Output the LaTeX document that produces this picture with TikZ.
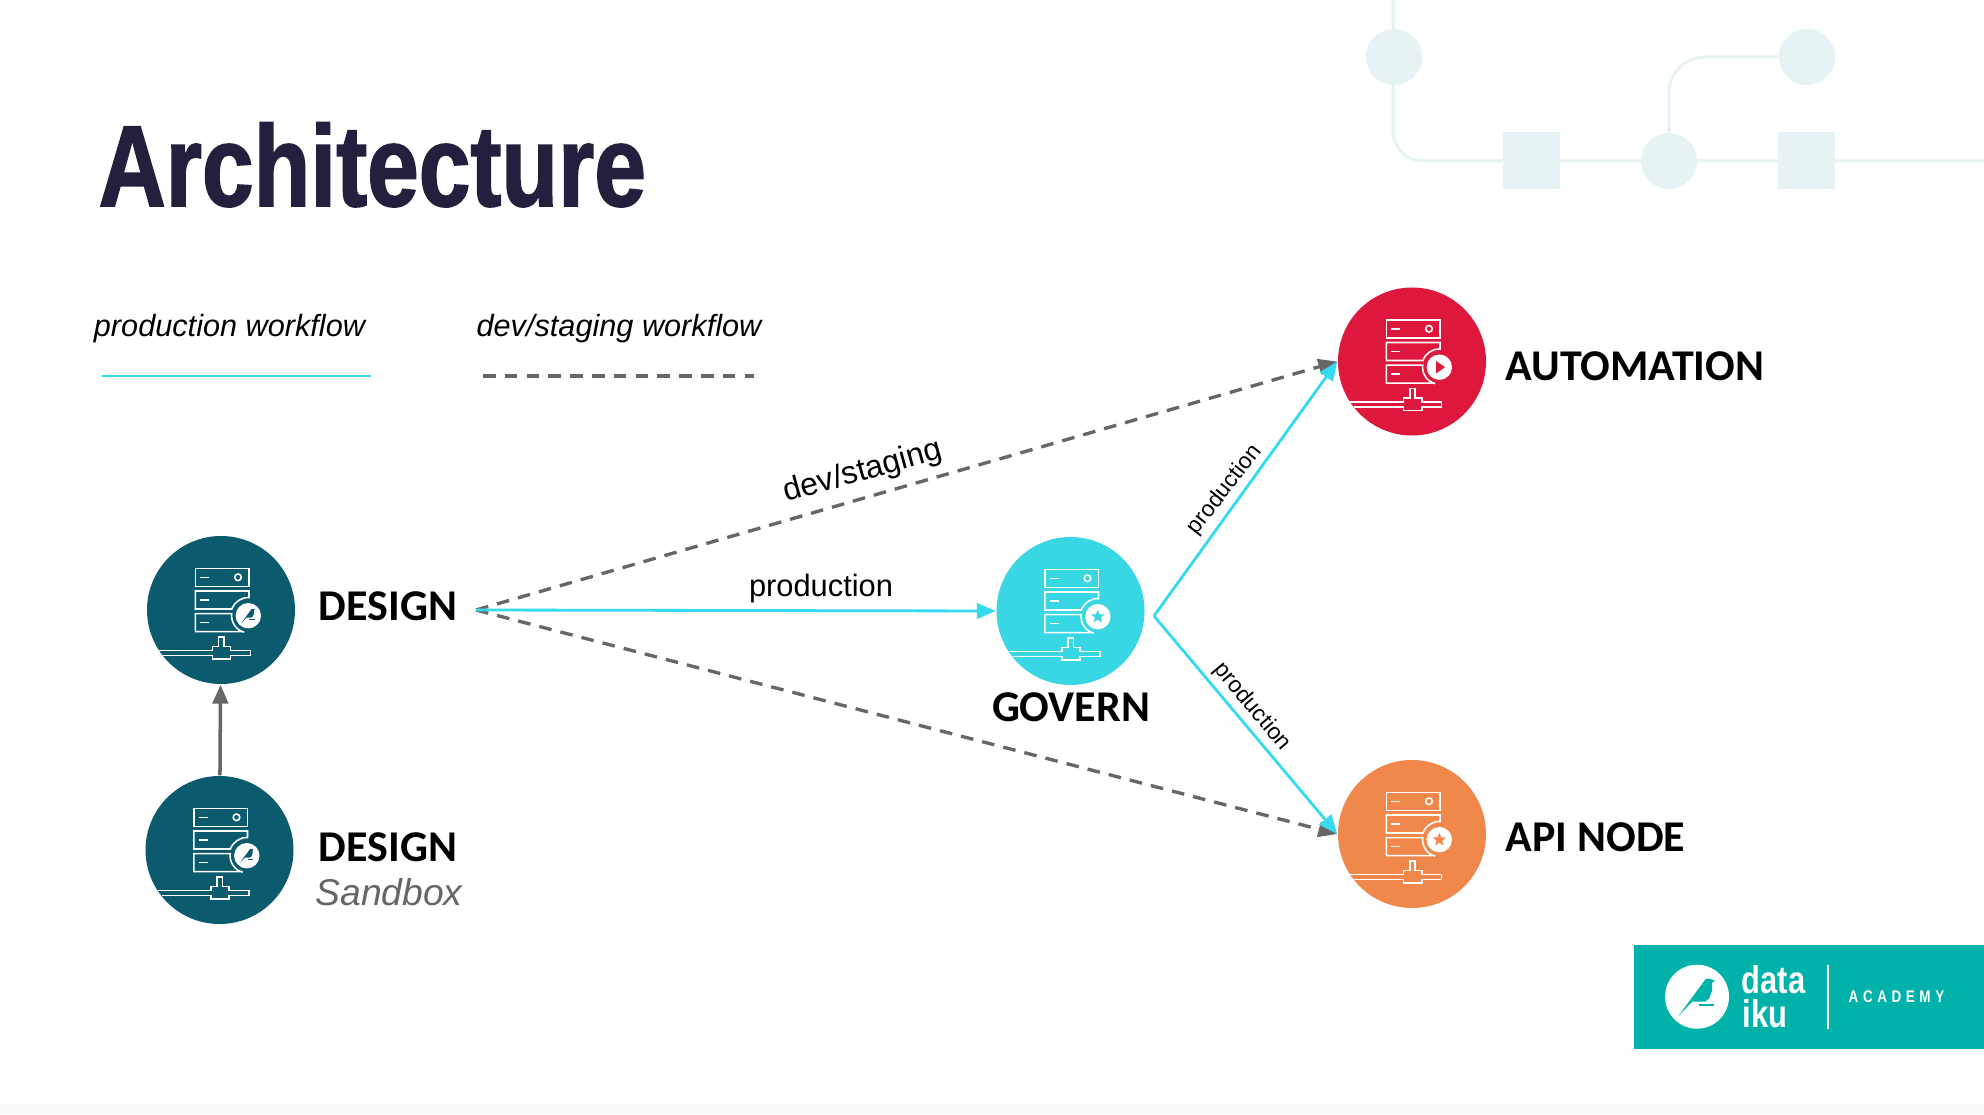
\documentclass[tikz,border=0pt]{standalone}
\usepackage{amsmath}
\usepackage{xcolor}
\usepackage{fontspec}
\usepackage{tikz}
\usetikzlibrary{shapes, arrows.meta, positioning}
\setmainfont{Liberation Sans}
\newfontfamily\titlefont[FakeStretch=0.806,BoldFeatures={FakeBold=1.4}]{Liberation Sans}
\newfontfamily\serverfont{Carlito}
\newfontfamily\logofont[FakeStretch=0.8]{Liberation Sans}
\newfontfamily\academyfont[FakeStretch=0.8,LetterSpace=27]{Liberation Sans}
\definecolor{titlenavy}{HTML}{231F3C}
\definecolor{decotint}{HTML}{E6F2F4}
\definecolor{designteal}{HTML}{0B5A6E}
\definecolor{governcyan}{HTML}{38D7E3}
\definecolor{autored}{HTML}{DE173C}
\definecolor{apiorange}{HTML}{F0884B}
\definecolor{prodcyan}{HTML}{35D9F0}
\definecolor{devgray}{HTML}{666666}
\definecolor{logoteal}{HTML}{00B2A9}
\tikzset{
  decoline/.style={draw=decotint, line width=0.85pt},
  decodisc/.style={circle, fill=decotint, minimum size=0.56cm, inner sep=0pt},
  decosquare/.style={rectangle, fill=decotint, minimum size=0.57cm, inner sep=0pt},
  serverdisc/.style={circle, minimum size=1.48cm, inner sep=0pt},
  servername/.style={font=\serverfont\bfseries\fontsize{12.5}{13}\selectfont, text=black, inner sep=0pt},
  legendtext/.style={font=\itshape\fontsize{8.73}{10}\selectfont, inner sep=0pt},
  edgetext/.style={font=\fontsize{8.77}{10}\selectfont, inner sep=0pt},
  smalledge/.style={font=\fontsize{6.5}{8}\selectfont, inner sep=0pt},
  prodline/.style={draw=prodcyan, line width=0.8pt},
  devline/.style={draw=devgray, line width=0.95pt, dash pattern=on 3.6pt off 2.6pt},
  prodarrow/.style={prodline, -{Stealth[length=5.4pt,width=4.4pt,inset=0pt]}},
  devarrow/.style={devline, -{Stealth[length=5.4pt,width=4.4pt,inset=0pt]}},
  iconline/.style={draw=white, line width=0.45pt},
  birdmark/.pic={
    \fill[pic actions] (-.186,-.192) -- (.03,.1) -- (.08,.17) -- (.102,.182) -- (.125,.18) -- (.18,.16) -- (.15,.14) -- (.15,.06) -- (.12,-.02) -- (.08,-.05) -- (-.05,-.05) -- cycle;
    \fill[pic actions] (.02,-.074) rectangle (.17,-.093);
  },
  starmark/.pic={
    \fill[pic actions] (90:.07) -- (126:.03) -- (162:.07) -- (198:.03) -- (234:.07) -- (270:.03) -- (306:.07) -- (342:.03) -- (18:.07) -- (54:.03) -- cycle;
  },
  playmark/.pic={
    \fill[pic actions] (-.033,.063) -- (.057,0) -- (-.033,-.063) -- cycle;
  },
  servericon/.pic={
    \draw[iconline] (-.257,.417) rectangle (.28,.237);
    \draw[iconline] (-.207,.327) -- (-.12,.327);
    \draw[iconline] (.17,.327) circle (.033);
    \draw[iconline] (.28,.19) -- (-.257,.19) -- (-.257,.01) -- (.109,.01) arc[start angle=160,end angle=88,radius=.175] -- cycle;
    \draw[iconline] (-.207,.1) -- (-.12,.1);
    \draw[iconline] (.23,-.217) -- (-.257,-.217) -- (-.257,-.037) -- (.107,-.037) arc[start angle=173,end angle=255,radius=.17];
    \draw[iconline] (-.207,-.127) -- (-.12,-.127);
    \draw[iconline] (-.616,-.407) -- (-.087,-.407) -- (-.087,-.363) -- (-.023,-.363) -- (-.023,-.27) -- (.03,-.27) -- (.03,-.363) -- (.097,-.363) -- (.097,-.407) -- (.293,-.407) -- (.293,-.457) -- (.097,-.457) -- (.097,-.49) -- (-.087,-.49) -- (-.087,-.457) -- (-.58,-.457);
    \node[circle, fill=white, minimum size=.254cm, inner sep=0pt] (badge) at (.273,-.057) {};
  },
}
\begin{document}
\begin{tikzpicture}
  \useasboundingbox (0,0) rectangle (19.84,11.14);
  \fill[white] (0,0) rectangle (19.84,11.14);
  \fill[black!2] (0,0) rectangle (19.84,.1);

  % corner decoration
  \coordinate (decotop) at (13.93,11.14);
  \coordinate (decoright) at (19.84,9.53);
  \node[decodisc] (decoa) at (13.94,10.57) {};
  \node[decosquare] (decob) at (15.31,9.53) {};
  \node[decodisc] (decoc) at (16.69,9.53) {};
  \node[decosquare] (decod) at (18.06,9.53) {};
  \node[decodisc] (decoe) at (18.07,10.57) {};
  \draw[decoline, rounded corners=.3cm] (decotop) |- (decoright);
  \draw[decoline, rounded corners=.36cm] (decoc) |- (decoe);

  % title and legend
  \node[anchor=base west, inner sep=0pt, text=titlenavy, font=\titlefont\bfseries\fontsize{32.8}{34}\selectfont] (title) at (.98,9.08) {Architecture};
  \node[legendtext] (prodlegend) at (2.295,7.85) {production workflow};
  \node[legendtext] (devlegend) at (6.19,7.85) {dev/staging workflow};
  \coordinate (prodstart) at (1.02,7.38);
  \coordinate (prodend) at (3.71,7.38);
  \coordinate (devstart) at (4.83,7.38);
  \coordinate (devend) at (7.54,7.38);
  \draw[prodline] (prodstart) -- (prodend);
  \draw[devline] (devstart) -- (devend);

  % servers
  \node[serverdisc, fill=designteal] (design) at (2.21,5.04) {};
  \node[serverdisc, fill=designteal] (sandbox) at (2.195,2.64) {};
  \node[serverdisc, fill=governcyan] (govern) at (10.705,5.03) {};
  \node[serverdisc, fill=autored] (automation) at (14.12,7.525) {};
  \node[serverdisc, fill=apiorange] (apinode) at (14.12,2.8) {};
  \pic (designicon) at (design) {servericon};
  \pic (sandboxicon) at (sandbox) {servericon};
  \pic (governicon) at (govern) {servericon};
  \pic (automationicon) at (automation) {servericon};
  \pic (apiicon) at (apinode) {servericon};
  \pic[fill=designteal, scale=.38] at (designiconbadge) {birdmark};
  \pic[fill=designteal, scale=.38] at (sandboxiconbadge) {birdmark};
  \pic[fill=governcyan] at (governiconbadge) {starmark};
  \pic[fill=autored] at (automationiconbadge) {playmark};
  \pic[fill=apiorange] at (apiiconbadge) {starmark};

  \node[servername] (designname) at (3.88,5.08) {DESIGN};
  \node[servername] (sandboxname) at (3.88,2.67) {DESIGN};
  \node[inner sep=0pt, text=devgray, font=\itshape\fontsize{10.6}{12}\selectfont] (sandboxnote) at (3.89,2.22) {Sandbox};
  \node[servername] (governname) at (10.71,4.07) {GOVERN};
  \node[servername, anchor=west] (automationname) at (15.05,7.48) {AUTOMATION};
  \node[servername, anchor=west] (apiname) at (15.05,2.77) {API NODE};

  % connectors
  \coordinate (designout) at (4.76,5.04);
  \coordinate (governout) at (11.54,4.98);
  \draw[devgray, line width=1pt, -{Stealth[length=5.4pt,width=4.4pt,inset=0pt]}] (sandbox) -- (design);
  \draw[devarrow] (designout) -- (automation.west);
  \draw[devarrow] (designout) -- (apinode.west);
  \draw[prodarrow] (designout) -- (govern.west);
  \draw[prodarrow] (governout) -- (automation.west);
  \draw[prodarrow] (governout) -- (apinode.west);
  \node[edgetext, font=\fontsize{9.1}{11}\selectfont, rotate=15.5] (devlabel) at (8.63,6.42) {dev/staging};
  \node[edgetext] (prodlabel) at (8.21,5.25) {production};
  \node[smalledge, rotate=52] (uplabel) at (12.25,6.24) {production};
  \node[smalledge, rotate=-50] (downlabel) at (12.52,4.07) {production};

  % logo
  \fill[logoteal] (16.34,.65) rectangle (19.84,1.693);
  \node[circle, fill=white, minimum size=.64cm, inner sep=0pt] (logodisc) at (16.97,1.173) {};
  \pic[fill=logoteal] at (logodisc) {birdmark};
  \node[anchor=base west, inner sep=0pt, text=white, font=\logofont\bfseries\fontsize{11}{12}\selectfont] (logodata) at (17.41,1.21) {data};
  \node[anchor=base west, inner sep=0pt, text=white, font=\logofont\bfseries\fontsize{11}{12}\selectfont] (logoiku) at (17.42,.863) {iku};
  \coordinate (ruletop) at (18.28,1.49);
  \coordinate (rulebottom) at (18.28,.85);
  \draw[white, line width=0.4pt] (ruletop) -- (rulebottom);
  \node[anchor=west, inner sep=0pt, text=white, font=\academyfont\bfseries\fontsize{4.8}{6}\selectfont] (academy) at (18.48,1.17) {ACADEMY};
\end{tikzpicture}
\end{document}
